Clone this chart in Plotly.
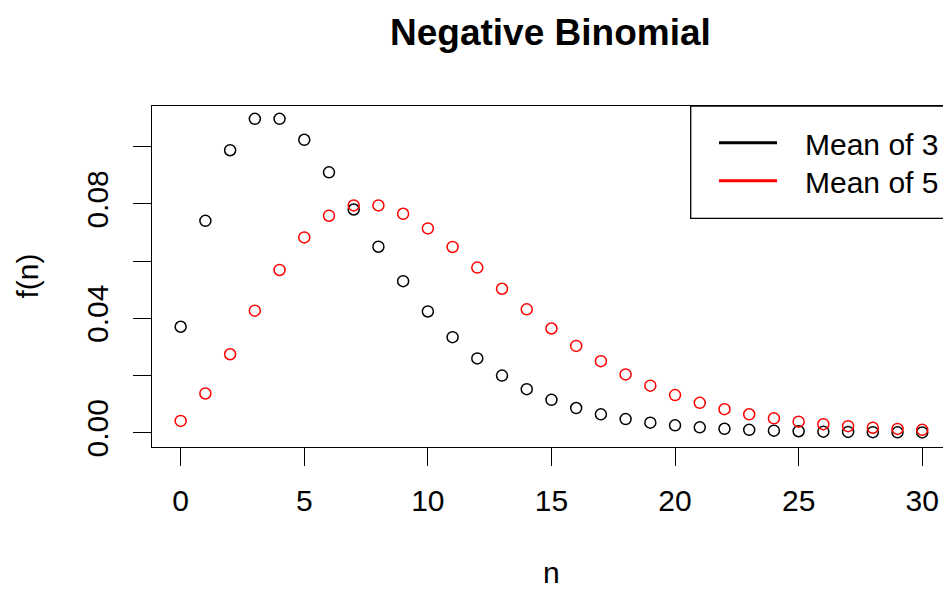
import plotly.graph_objects as go

# ---- data ----
n_values = list(range(0, 31))
f_mean3 = [0.03704, 0.07407, 0.09877, 0.10974, 0.10974, 0.10242, 0.09104, 0.07804,
           0.06503, 0.05299, 0.04239, 0.03340, 0.02598, 0.01998, 0.01522, 0.01150,
           0.00863, 0.00643, 0.00476, 0.00351, 0.00257, 0.00188, 0.00137, 0.00099,
           0.00072, 0.00052, 0.00037, 0.00027, 0.00019, 0.00013, 0.00010]
f_mean5 = [0.00412, 0.01372, 0.02743, 0.04268, 0.05690, 0.06828, 0.07587, 0.07948,
           0.07948, 0.07654, 0.07144, 0.06494, 0.05773, 0.05033, 0.04314, 0.03643,
           0.03035, 0.02500, 0.02037, 0.01644, 0.01315, 0.01044, 0.00822, 0.00644,
           0.00501, 0.00387, 0.00298, 0.00228, 0.00174, 0.00132, 0.00100]
series_names = ["Mean of 3", "Mean of 5"]
series_colors = ["#000000", "#FF0000"]
x_tick_vals = [0, 5, 10, 15, 20, 25, 30]
x_tick_text = ["0", "5", "10", "15", "20", "25", "30"]
y_tick_vals = [0.00, 0.02, 0.04, 0.06, 0.08, 0.10]
y_tick_text = ["0.00", "", "0.04", "", "0.08", ""]

W, H = 943, 592
L, R, T, B = 152, 0, 106, 145
FONT = "Liberation Sans, Arial, sans-serif"


def pxx(px):
    return (px - L) / (W - L - R)


def pxy(py):
    return (H - B - py) / (H - B - T)


fig = go.Figure()
for vals, name, col in zip([f_mean3, f_mean5], series_names, series_colors):
    fig.add_trace(go.Scatter(
        x=n_values, y=vals, mode="markers", name=name, showlegend=False,
        marker=dict(symbol="circle-open", size=11, color=col,
                    line=dict(color=col, width=1.5)),
    ))

axis_common = dict(
    ticks="outside", ticklen=18, tickwidth=1.3, tickcolor="#000",
    showline=True, linecolor="#000", linewidth=1.3,
    showgrid=False, zeroline=False,
    tickfont=dict(family=FONT, size=30, color="#000"),
)

fig.update_xaxes(range=[-1.16, 30.84], tickmode="array", tickvals=x_tick_vals,
                 ticktext=x_tick_text, mirror=True, ticklabelstandoff=9,
                 **axis_common)
fig.update_yaxes(range=[-0.0050, 0.11423], tickmode="array", tickvals=y_tick_vals,
                 ticktext=y_tick_text, tickangle=-90, mirror=False,
                 ticklabelstandoff=13, **axis_common)

annotations = [
    dict(text="n", x=pxx(551), y=pxy(591), xref="paper", yref="paper",
         xanchor="center", yanchor="bottom", showarrow=False,
         font=dict(family=FONT, size=30, color="#000")),
    dict(text="f(n)", x=pxx(27), y=pxy(276.5), xref="paper", yref="paper",
         xanchor="center", yanchor="middle", showarrow=False, textangle=-90,
         font=dict(family=FONT, size=30, color="#000")),
]

shapes = [
    dict(type="rect", xref="paper", yref="paper",
         x0=pxx(690.7), x1=pxx(1000), y0=pxy(218.3), y1=pxy(106),
         line=dict(color="#000", width=1.3), fillcolor="rgba(0,0,0,0)"),
]
for i, (name, col) in enumerate(zip(series_names, series_colors)):
    ly = 142.7 + i * 38
    shapes.append(dict(type="line", xref="paper", yref="paper",
                       x0=pxx(719), x1=pxx(777), y0=pxy(ly), y1=pxy(ly),
                       line=dict(color=col, width=3)))
    annotations.append(dict(text=name, x=pxx(803), y=pxy(ly + 1.5),
                            xref="paper", yref="paper", xanchor="left",
                            yanchor="middle", showarrow=False,
                            font=dict(family=FONT, size=30, color="#000")))

fig.update_layout(
    width=W, height=H, autosize=False,
    margin=dict(l=L, r=R, t=T, b=B, pad=0),
    paper_bgcolor="white", plot_bgcolor="white",
    title=dict(text="<b>Negative Binomial</b>", x=550.4 / W, xref="container",
               xanchor="center", y=1 - 32 / H, yref="container", yanchor="middle",
               font=dict(family=FONT, size=37, color="#000")),
    annotations=annotations, shapes=shapes,
)

fig.write_html("out.html")
